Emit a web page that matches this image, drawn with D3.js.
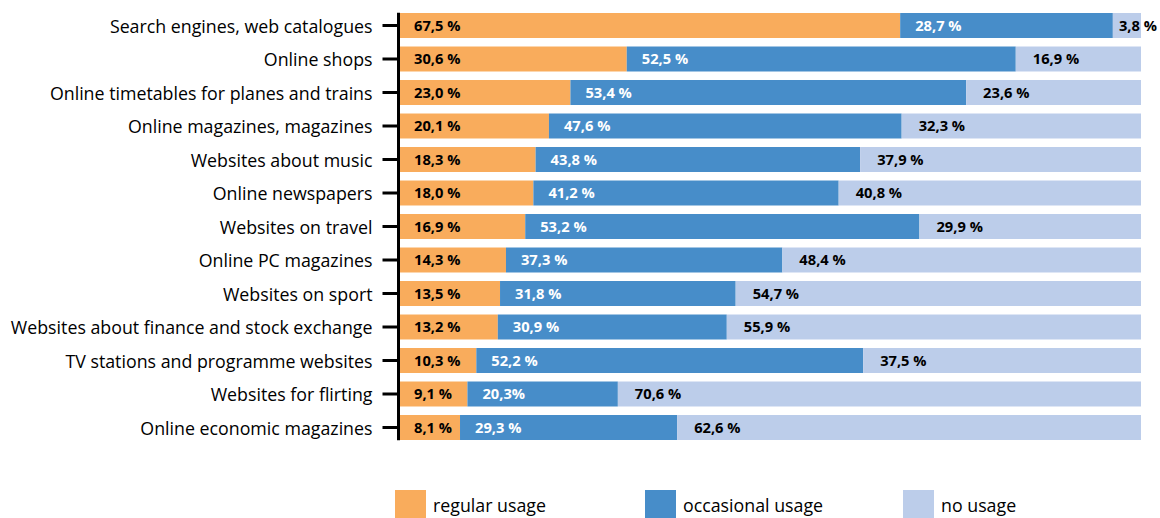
<!DOCTYPE html>
<html>
<head>
<meta charset="utf-8">
<script src="https://cdn.jsdelivr.net/npm/d3@7"></script>
<style>
  html, body { margin: 0; padding: 0; background: #fff; }
  svg { display: block; }
</style>
</head>
<body>
<svg id="chart" width="1160" height="518"></svg>
<script>
// Internet usage by website type (share of respondents, %)
const categories = [
  "Search engines, web catalogues",
  "Online shops",
  "Online timetables for planes and trains",
  "Online magazines, magazines",
  "Websites about music",
  "Online newspapers",
  "Websites on travel",
  "Online PC magazines",
  "Websites on sport",
  "Websites about finance and stock exchange",
  "TV stations and programme websites",
  "Websites for flirting",
  "Online economic magazines"
];
const regular    = [67.5, 30.6, 23.0, 20.1, 18.3, 18.0, 16.9, 14.3, 13.5, 13.2, 10.3, 9.1, 8.1];
const occasional = [28.7, 52.5, 53.4, 47.6, 43.8, 41.2, 53.2, 37.3, 31.8, 30.9, 52.2, 20.3, 29.3];
const noUsage    = [3.8, 16.9, 23.6, 32.3, 37.9, 40.8, 29.9, 48.4, 54.7, 55.9, 37.5, 70.6, 62.6];
const seriesNames = ["regular usage", "occasional usage", "no usage"];
const seriesKeys = ["regular", "occasional", "none"];
const colors = ["#f9ac5c", "#478dc9", "#bccdea"];
const labelColors = ["#000", "#fff", "#000"];

// percent label in the source style: "67,5 %"; one value printed without the space
const fmt = (v, i, k) => {
  const s = v.toFixed(1).replace(".", ",");
  return (k === "occasional" && i === 11) ? s + "%" : s + " %";
};

const rows = categories.map((c, i) => ({
  category: c, regular: regular[i], occasional: occasional[i], none: noUsage[i], index: i
}));

const svg = d3.select("#chart");
const width = 1160;
const margin = { left: 400, right: 19, top: 13 };

const x = d3.scaleLinear().domain([0, 100]).range([margin.left, width - margin.right]);
const y = d3.scaleBand().domain(categories)
  .range([margin.top - 4.25, margin.top - 4.25 + 33.5 * categories.length])
  .paddingInner(0.254).paddingOuter(0.127);

const stack = d3.stack().keys(seriesKeys)(rows);

svg.append("g").selectAll("g")
  .data(stack).join("g")
  .attr("fill", (d, i) => colors[i])
  .selectAll("rect")
  .data(d => d)
  .join("rect")
  .attr("x", d => x(d[0]))
  .attr("y", d => y(d.data.category))
  .attr("width", d => x(d[1]) - x(d[0]))
  .attr("height", y.bandwidth());

// value labels inside each segment
const font = "'Open Sans', sans-serif";
stack.forEach((layer, li) => {
  svg.append("g").selectAll("text")
    .data(layer).join("text")
    .attr("y", d => y(d.data.category) + y.bandwidth() / 2)
    .attr("dy", "0.355em")
    .attr("fill", labelColors[li])
    .style("font-family", font)
    .style("font-weight", 700)
    .style("font-size", "14.7px")
    .text(d => fmt(d.data[layer.key], d.data.index, layer.key))
    .attr("x", function (d) {
      const off = li === 0 ? 14 : (li === 1 ? 15 : 17);
      const w = this.getComputedTextLength();
      return Math.min(x(d[0]) + off, width - 3 - w);
    });
});

// category axis
const axis = d3.axisLeft(y).tickSize(16).tickPadding(10).tickSizeOuter(0);
const ag = svg.append("g").attr("transform", `translate(${margin.left - 1.5},0)`).call(axis);
ag.select(".domain").attr("stroke", "#000").attr("stroke-width", 3)
  .attr("d", `M0,${y.range()[0] + 4}V${y.range()[1] - 4}`);
ag.selectAll(".tick line").attr("stroke", "#000").attr("stroke-width", 3);
ag.selectAll(".tick text")
  .attr("fill", "#000")
  .attr("dy", "0.4em")
  .style("font-family", font)
  .style("font-size", "17.8px");

// legend
const legendX = [395, 645, 903];
const lg = svg.append("g").selectAll("g")
  .data(seriesNames).join("g")
  .attr("transform", (d, i) => `translate(${legendX[i]},490)`);
lg.append("rect").attr("width", 31).attr("height", 30).attr("fill", (d, i) => colors[i]);
lg.append("text")
  .attr("x", 38).attr("y", 21.5)
  .attr("fill", "#000")
  .style("font-family", font)
  .style("font-size", "17.8px")
  .text(d => d);
</script>
</body>
</html>
